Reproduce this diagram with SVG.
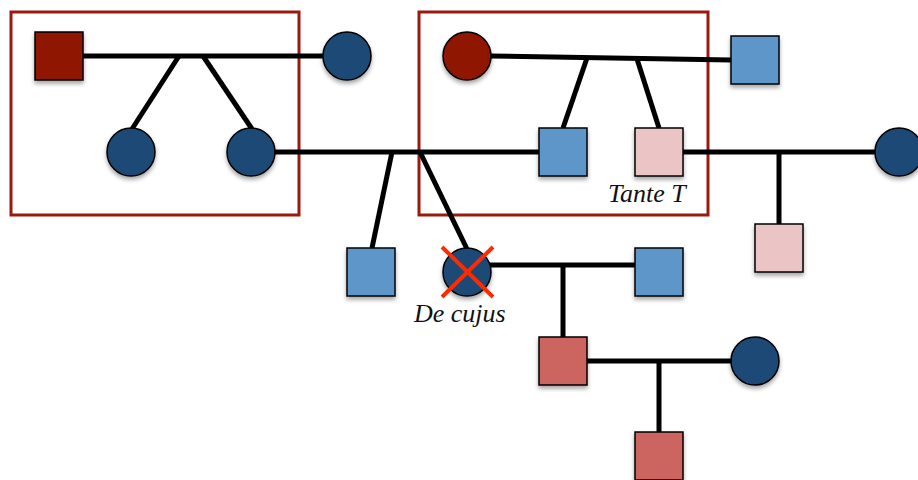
<svg xmlns="http://www.w3.org/2000/svg" width="918" height="480" viewBox="0 0 918 480">
<defs>
<filter id="sh" x="-30%" y="-30%" width="160%" height="170%">
<feDropShadow dx="0" dy="3" stdDeviation="2" flood-color="#000" flood-opacity="0.35"/>
</filter>
<style>
.ln{stroke:#000;stroke-width:5;fill:none;stroke-linecap:butt}
.nd{stroke:#000;stroke-width:1.5;filter:url(#sh)}
.dr{fill:#8f1200}
.db{fill:#1e4a74}
.lb{fill:#5e96c9}
.pk{fill:#ebc5c5}
.mr{fill:#cc6560}
.box{fill:none;stroke:#9b1a0e;stroke-width:3}
.lbl{font-family:"Liberation Serif",serif;font-style:italic;font-size:26px;fill:#111}
</style>
</defs>
<rect width="918" height="480" fill="#fff"/>
<g id="boxes">
<rect class="box" x="11" y="12" width="288" height="203"/>
<rect class="box" x="419" y="12" width="289" height="203"/>
</g>
<g id="connectors">
<line class="ln" x1="83" y1="56" x2="323" y2="56"/>
<line class="ln" x1="179" y1="56" x2="132" y2="129"/>
<line class="ln" x1="203" y1="56" x2="252" y2="129"/>
<line class="ln" x1="275" y1="152" x2="539" y2="152"/>
<line class="ln" x1="392" y1="152" x2="372" y2="248"/>
<line class="ln" x1="420" y1="152" x2="467" y2="249"/>
<line class="ln" x1="491" y1="56" x2="731" y2="60"/>
<line class="ln" x1="587" y1="58" x2="563" y2="128"/>
<line class="ln" x1="637" y1="59" x2="659" y2="128"/>
<line class="ln" x1="683" y1="152" x2="876" y2="152"/>
<line class="ln" x1="779" y1="152" x2="779" y2="224"/>
<line class="ln" x1="490" y1="265" x2="635" y2="265"/>
<line class="ln" x1="563" y1="265" x2="563" y2="337"/>
<line class="ln" x1="587" y1="361" x2="732" y2="361"/>
<line class="ln" x1="659" y1="361" x2="659" y2="432"/>
</g>
<g id="n1"><rect class="nd dr" x="35" y="32" width="48" height="48"/></g>
<g id="n2"><circle class="nd db" cx="347" cy="56" r="24"/></g>
<g id="n3"><circle class="nd db" cx="131" cy="152" r="24"/></g>
<g id="n4"><circle class="nd db" cx="251" cy="152" r="24"/></g>
<g id="n5"><circle class="nd dr" cx="467" cy="56" r="24"/></g>
<g id="n6"><rect class="nd lb" x="731" y="36" width="48" height="48"/></g>
<g id="n7"><rect class="nd lb" x="539" y="128" width="48" height="48"/></g>
<g id="n8"><rect class="nd pk" x="635" y="128" width="48" height="48"/><text class="lbl" x="608" y="202">Tante T</text></g>
<g id="n9"><circle class="nd db" cx="899" cy="152" r="24"/></g>
<g id="n10"><rect class="nd pk" x="755" y="224" width="48" height="48"/></g>
<g id="n11"><rect class="nd lb" x="347" y="248" width="48" height="48"/></g>
<g id="n12"><circle class="nd db" cx="467" cy="272" r="24"/>
<line x1="442" y1="247" x2="493" y2="297" stroke="#ff2a00" stroke-width="4"/>
<line x1="493" y1="247" x2="442" y2="297" stroke="#ff2a00" stroke-width="4"/>
<text class="lbl" x="414" y="322">De cujus</text></g>
<g id="n13"><rect class="nd lb" x="635" y="248" width="48" height="48"/></g>
<g id="n14"><rect class="nd mr" x="539" y="337" width="48" height="48"/></g>
<g id="n15"><circle class="nd db" cx="755" cy="361" r="24"/></g>
<g id="n16"><rect class="nd mr" x="635" y="432" width="48" height="48"/></g>
</svg>
